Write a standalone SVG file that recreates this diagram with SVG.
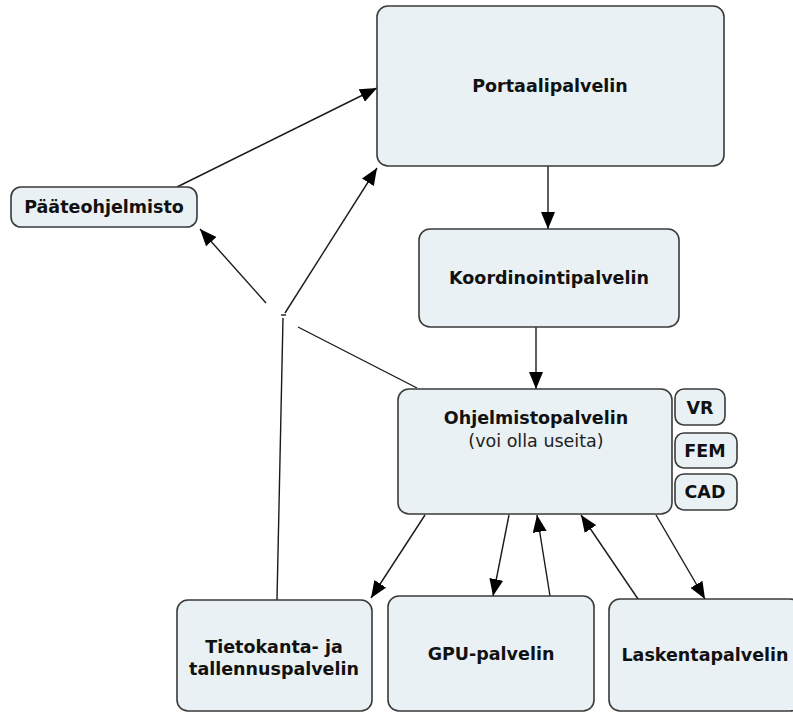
<svg xmlns="http://www.w3.org/2000/svg" width="793" height="713" viewBox="0 0 793 713">
  <style>
    .box { fill: #e9f1f4; stroke: #3a3a3a; stroke-width: 1.6; }
    .lbl { font-family: "DejaVu Sans", Verdana, sans-serif; font-weight: bold; font-size: 17.5px; fill: #111; text-anchor: middle; }
    .sub { font-family: "DejaVu Sans", Verdana, sans-serif; font-weight: normal; font-size: 17.5px; fill: #222; text-anchor: middle; }
    .link { fill: none; stroke: #1a1a1a; stroke-width: 1.4; }
  </style>
  <defs>
    <marker id="arrow" markerUnits="userSpaceOnUse" markerWidth="17" markerHeight="14" refX="17" refY="7" orient="auto">
      <path d="M0,0 L17,7 L0,14 z" fill="#000"/>
    </marker>
  </defs>
  <rect width="793" height="713" fill="#fff"/>

  <g id="connectors">
    <line class="link" x1="177" y1="187" x2="377" y2="88" marker-end="url(#arrow)"/>
    <line class="link" x1="548" y1="166" x2="548" y2="229" marker-end="url(#arrow)"/>
    <line class="link" x1="536" y1="327" x2="536" y2="389" marker-end="url(#arrow)"/>
    <!-- unlabelled linking point -->
    <line class="link" x1="277" y1="600" x2="283" y2="318"/>
    <line class="link" x1="281" y1="315" x2="286" y2="315"/>
    <line class="link" x1="285" y1="313" x2="377" y2="168" marker-end="url(#arrow)"/>
    <line class="link" x1="266" y1="303" x2="200" y2="229" marker-end="url(#arrow)"/>
    <line class="link" x1="417" y1="388" x2="298" y2="327"/>
    <!-- software server fan-out -->
    <line class="link" x1="425" y1="515" x2="371" y2="598" marker-end="url(#arrow)"/>
    <line class="link" x1="509" y1="515" x2="493" y2="596" marker-end="url(#arrow)"/>
    <line class="link" x1="550" y1="596" x2="537" y2="515" marker-end="url(#arrow)"/>
    <line class="link" x1="638" y1="599" x2="581" y2="515" marker-end="url(#arrow)"/>
    <line class="link" x1="656" y1="515" x2="705" y2="599" marker-end="url(#arrow)"/>
  </g>

  <g id="portaalipalvelin">
    <rect class="box" x="377" y="6" width="347" height="160" rx="11"/>
    <text class="lbl" x="550" y="92">Portaalipalvelin</text>
  </g>
  <g id="paateohjelmisto">
    <rect class="box" x="11" y="187" width="186" height="40" rx="10"/>
    <text class="lbl" x="104" y="213">Pääteohjelmisto</text>
  </g>
  <g id="koordinointipalvelin">
    <rect class="box" x="419" y="229" width="260" height="98" rx="11"/>
    <text class="lbl" x="549" y="284">Koordinointipalvelin</text>
  </g>
  <g id="ohjelmistopalvelin">
    <rect class="box" x="398" y="389" width="274" height="125" rx="11"/>
    <text class="lbl" x="536" y="424">Ohjelmistopalvelin</text>
    <text class="sub" x="536" y="447">(voi olla useita)</text>
  </g>
  <g id="vr">
    <rect class="box" x="675" y="389" width="50" height="36" rx="9"/>
    <text class="lbl" x="700" y="414">VR</text>
  </g>
  <g id="fem">
    <rect class="box" x="675" y="433" width="62" height="35" rx="9"/>
    <text class="lbl" x="705" y="457">FEM</text>
  </g>
  <g id="cad">
    <rect class="box" x="675" y="474" width="62" height="36" rx="9"/>
    <text class="lbl" x="705" y="498">CAD</text>
  </g>
  <g id="tietokantapalvelin">
    <rect class="box" x="177" y="600" width="195" height="111" rx="11"/>
    <text class="lbl" x="274" y="653">Tietokanta- ja</text>
    <text class="lbl" x="274" y="675">tallennuspalvelin</text>
  </g>
  <g id="gpu-palvelin">
    <rect class="box" x="388" y="596" width="206" height="115" rx="11"/>
    <text class="lbl" x="491" y="660">GPU-palvelin</text>
  </g>
  <g id="laskentapalvelin">
    <rect class="box" x="609" y="599" width="192" height="112" rx="11"/>
    <text class="lbl" x="705" y="661">Laskentapalvelin</text>
  </g>
</svg>
